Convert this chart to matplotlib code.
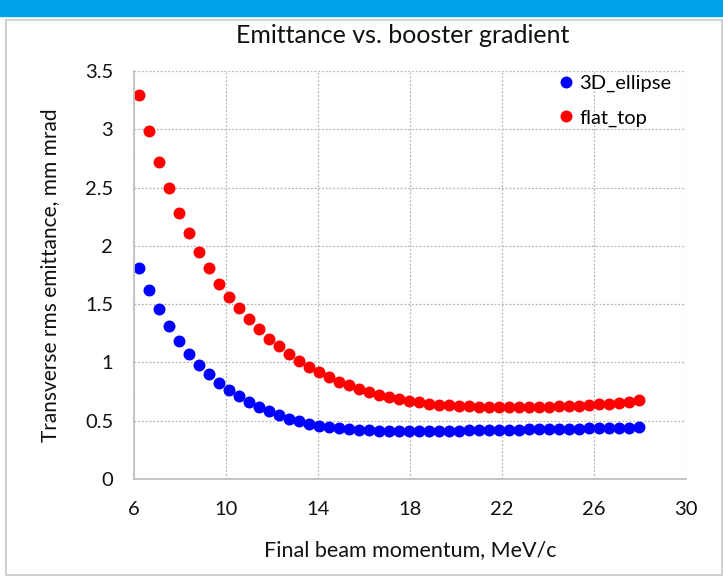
import matplotlib
matplotlib.use('Agg')
import matplotlib.pyplot as plt
from matplotlib.patches import Rectangle

plt.rcParams['font.family'] = ['Lato', 'DejaVu Sans']

# final beam momentum, MeV/c
momentum = [6.22, 6.66, 7.09, 7.53, 7.96, 8.40, 8.83, 9.27, 9.70, 10.14,
            10.57, 11.01, 11.44, 11.88, 12.31, 12.75, 13.18, 13.62, 14.05, 14.49,
            14.92, 15.36, 15.79, 16.23, 16.66, 17.10, 17.53, 17.97, 18.40, 18.84,
            19.27, 19.71, 20.14, 20.58, 21.01, 21.45, 21.88, 22.32, 22.75, 23.19,
            23.62, 24.06, 24.49, 24.93, 25.36, 25.80, 26.23, 26.67, 27.10, 27.54,
            27.97]

# transverse rms emittance, mm mrad
ellipse_3d = [1.81, 1.62, 1.455, 1.31, 1.18, 1.075, 0.98, 0.90, 0.826, 0.766,
              0.712, 0.663, 0.62, 0.582, 0.547, 0.518, 0.494, 0.474, 0.458, 0.445,
              0.435, 0.427, 0.421, 0.417, 0.414, 0.412, 0.411, 0.411, 0.411, 0.412,
              0.413, 0.414, 0.415, 0.416, 0.418, 0.419, 0.421, 0.422, 0.424, 0.425,
              0.427, 0.428, 0.43, 0.431, 0.433, 0.434, 0.436, 0.437, 0.439, 0.44,
              0.442]

flat_top = [3.29, 2.987, 2.722, 2.494, 2.286, 2.109, 1.95, 1.808, 1.675, 1.564,
            1.463, 1.369, 1.283, 1.204, 1.138, 1.073, 1.015, 0.964, 0.916, 0.873,
            0.836, 0.802, 0.774, 0.745, 0.722, 0.703, 0.685, 0.671, 0.657, 0.645,
            0.638, 0.632, 0.627, 0.623, 0.62, 0.618, 0.616, 0.615, 0.615, 0.616,
            0.617, 0.619, 0.622, 0.625, 0.629, 0.634, 0.64, 0.647, 0.655, 0.664,
            0.675]

x_ticks = [6, 10, 14, 18, 22, 26, 30]
y_ticks = [0, 0.5, 1, 1.5, 2, 2.5, 3, 3.5]

fig = plt.figure(figsize=(7.23, 5.81), dpi=100)

# blue band on top and grey frame around the chart
fig.patches.append(Rectangle((0, 0.972), 1, 0.028, transform=fig.transFigure,
                             color='#00a2e8', zorder=0))
fig.patches.append(Rectangle((0.008, 0.01), 0.99, 0.955, transform=fig.transFigure,
                             fill=False, edgecolor='#c8c8c8', lw=1.2, zorder=0))

ax = fig.add_axes([0.1853, 0.1756, 0.7635, 0.7022])

ax.plot(momentum, ellipse_3d, 'o', color='#0000ff', ms=8.6, mew=0, label='3D_ellipse')
ax.plot(momentum, flat_top, 'o', color='#ff0000', ms=8.6, mew=0, label='flat_top')

ax.set_xlim(6, 30)
ax.set_ylim(0, 3.5)
ax.set_xticks(x_ticks)
ax.set_yticks(y_ticks)
ax.set_yticklabels(['0', '0.5', '1', '1.5', '2', '2.5', '3', '3.5'])
ax.tick_params(length=0, labelsize=14.5, colors='#111111')
ax.tick_params(axis='x', pad=16)
ax.tick_params(axis='y', pad=15)

ax.grid(True, linestyle=(0, (1.5, 1.5)), color='#b5b5b5', lw=0.9)
ax.set_axisbelow(True)
for s in ['top', 'right']:
    ax.spines[s].set_visible(False)
for s in ['left', 'bottom']:
    ax.spines[s].set_color('#c0c0c0')
    ax.spines[s].set_linewidth(1.3)

ax.set_title('Emittance vs. booster gradient', fontsize=18, pad=20, color='#111111', x=0.487)
ax.set_xlabel('Final beam momentum, MeV/c', fontsize=15.5, labelpad=16, color='#111111')
ax.set_ylabel('Transverse rms emittance, mm mrad', fontsize=15, labelpad=18, color='#111111')

ax.legend(loc='upper right', frameon=False, fontsize=14.5, handlelength=0.8,
          handletextpad=0.25, borderaxespad=0.2, labelspacing=0.85,
          bbox_to_anchor=(0.995, 1.02))

fig.savefig('out.png', dpi=100)
